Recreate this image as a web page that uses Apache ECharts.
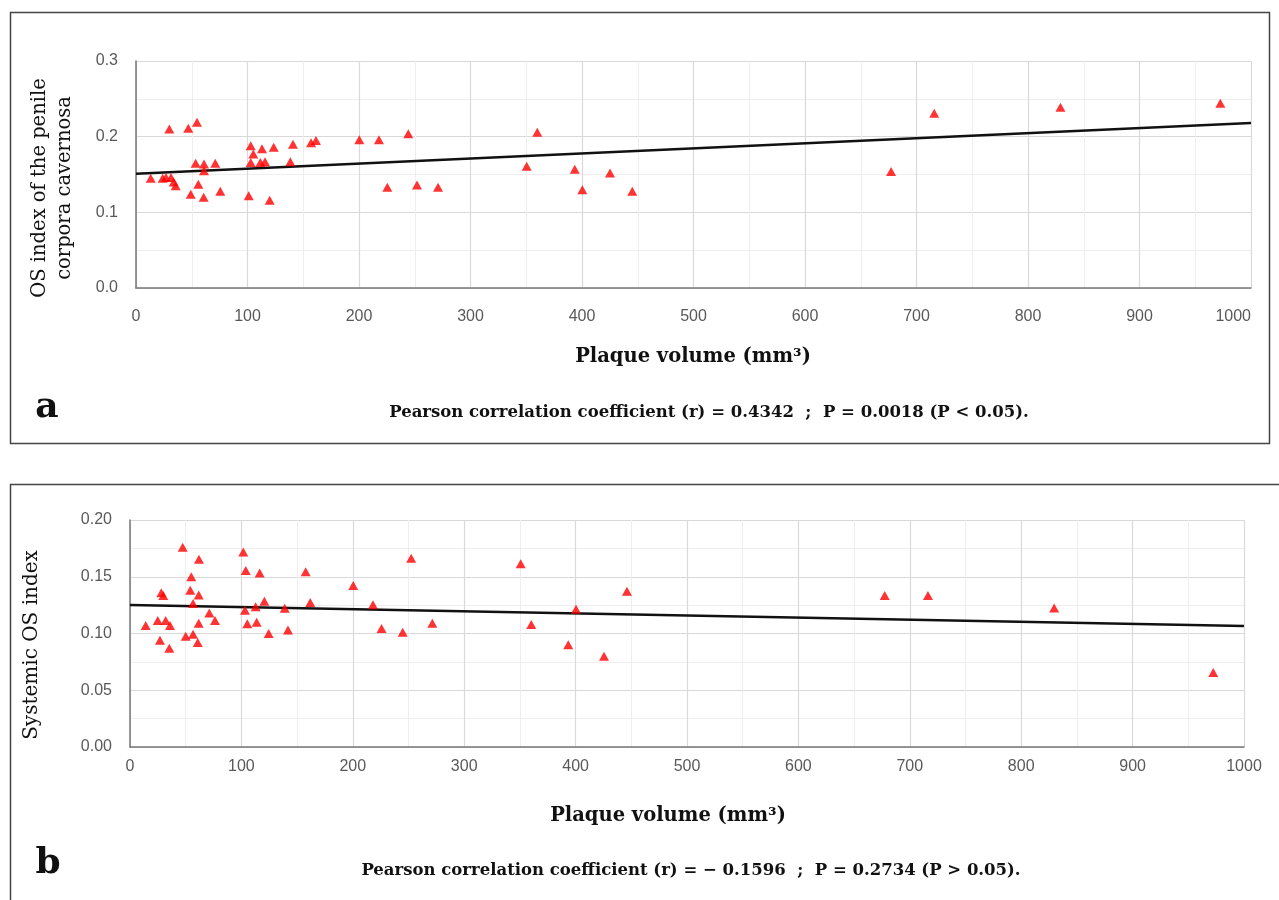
<!DOCTYPE html>
<html><head><meta charset="utf-8">
<script src="https://cdn.jsdelivr.net/npm/echarts/dist/echarts.min.js"></script>
<style>html,body{margin:0;padding:0;background:#fff}#c{width:1279px;height:900px}</style>
</head><body><div id="c"></div>
<script>
// Panel a: plaque volume (mm3) vs OS index of the penile corpora cavernosa
const penileX = [13.2, 23.9, 26.9, 31.4, 33.8, 35.6, 29.9, 46.9, 54.7, 53.5, 61.0, 71.1, 61.0, 55.9, 49.1, 60.7, 75.6,
  102.9, 105.2, 113.0, 123.5, 140.8, 157.0, 161.4, 102.9, 111.5, 115.7, 138.4, 101.1, 119.9,
  200.3, 217.9, 244.2, 359.9, 225.4, 252.0, 270.9, 350.4, 393.5, 425.1, 400.3, 445.1,
  715.9, 829.1, 972.5, 677.2];
const penileY = [0.145, 0.145, 0.146, 0.146, 0.140, 0.135, 0.210, 0.211, 0.219, 0.165, 0.164, 0.165, 0.155, 0.137, 0.124, 0.120, 0.128,
  0.188, 0.177, 0.184, 0.186, 0.190, 0.192, 0.195, 0.166, 0.166, 0.167, 0.167, 0.122, 0.116,
  0.196, 0.196, 0.204, 0.206, 0.133, 0.136, 0.133, 0.161, 0.157, 0.152, 0.130, 0.128,
  0.231, 0.239, 0.244, 0.154];
const trendAX = [0, 1000];
const trendAY = [0.151, 0.218];

// Panel b: plaque volume (mm3) vs systemic OS index
const systemicX = [14.1, 24.9, 32.0, 35.9, 26.9, 35.3, 28.1, 29.9, 47.3, 61.9, 55.0, 54.1, 61.7, 56.6, 71.2, 76.3, 61.7, 50.0, 56.6, 60.8,
  101.7, 103.9, 116.4, 103.2, 105.3, 112.8, 120.6, 113.7, 124.5, 138.9, 141.8, 157.7, 161.8,
  200.4, 218.1, 225.8, 244.8, 252.4, 271.4, 350.7, 360.2, 393.4, 400.4, 425.5, 446.1,
  677.5, 716.3, 829.6, 972.4];
const systemicY = [0.107, 0.1115, 0.1115, 0.107, 0.094, 0.087, 0.136, 0.1335, 0.176, 0.1655, 0.150, 0.138, 0.134, 0.1265, 0.118, 0.1115, 0.109, 0.0976, 0.0994, 0.092,
  0.1717, 0.1556, 0.1534, 0.1205, 0.1085, 0.1235, 0.1285, 0.110, 0.100, 0.1223, 0.103, 0.1543, 0.1273,
  0.1423, 0.1254, 0.1044, 0.101, 0.1662, 0.109, 0.1614, 0.108, 0.090, 0.1214, 0.080, 0.1373,
  0.1335, 0.1335, 0.1225, 0.0656];
const trendBX = [0, 1000];
const trendBY = [0.1252, 0.1067];

const xTickStep = 100;

const zip = (xs, ys) => xs.map((x, i) => [x, ys[i]]);
const labelFont = {fontFamily: 'Liberation Sans, Arial, sans-serif', fontSize: 16, color: '#595959'};
const serif = 'DejaVu Serif, serif';

function xAxisCfg(gridIndex, margin, alignMax) {
  return {
    type: 'value', gridIndex, min: 0, max: 1000, interval: xTickStep,
    axisLine: {show: true, lineStyle: {color: '#777', width: 1.5}},
    axisTick: {show: false},
    axisLabel: Object.assign({margin, alignMaxLabel: alignMax, formatter: v => String(v)}, labelFont),
    splitLine: {show: true, lineStyle: {color: '#d9d9d9', width: 1.2}},
    minorTick: {show: false, splitNumber: 2},
    minorSplitLine: {show: true, lineStyle: {color: '#eeeeee', width: 1}}
  };
}
function yAxisCfg(gridIndex, max, interval, digits) {
  return {
    type: 'value', gridIndex, min: 0, max, interval,
    axisLine: {show: true, lineStyle: {color: '#777', width: 1.5}},
    axisTick: {show: false},
    axisLabel: Object.assign({margin: 18, formatter: v => v.toFixed(digits)}, labelFont),
    splitLine: {show: true, lineStyle: {color: '#d9d9d9', width: 1.2}},
    minorTick: {show: false, splitNumber: 2},
    minorSplitLine: {show: true, lineStyle: {color: '#eeeeee', width: 1}}
  };
}

const chart = echarts.init(document.getElementById('c'), null, {renderer: 'canvas'});
chart.setOption({
  animation: false,
  backgroundColor: '#fff',
  grid: [
    {left: 136, top: 61, width: 1115, height: 227},
    {left: 130, top: 520, width: 1114, height: 227}
  ],
  xAxis: [xAxisCfg(0, 21, 'right'), xAxisCfg(1, 12, 'center')],
  yAxis: [yAxisCfg(0, 0.3, 0.1, 1), yAxisCfg(1, 0.2, 0.05, 2)],
  series: [
    {type: 'line', xAxisIndex: 0, yAxisIndex: 0, data: zip(trendAX, trendAY), showSymbol: false, silent: true,
     lineStyle: {color: '#111', width: 2.5}, z: 2},
    {type: 'scatter', xAxisIndex: 0, yAxisIndex: 0, data: zip(penileX, penileY), symbol: 'triangle', symbolSize: [10, 9],
     itemStyle: {color: '#ff0000'}, z: 3},
    {type: 'line', xAxisIndex: 1, yAxisIndex: 1, data: zip(trendBX, trendBY), showSymbol: false, silent: true,
     lineStyle: {color: '#111', width: 2.5}, z: 2},
    {type: 'scatter', xAxisIndex: 1, yAxisIndex: 1, data: zip(systemicX, systemicY), symbol: 'triangle', symbolSize: [10, 9],
     itemStyle: {color: '#ff0000'}, z: 3}
  ],
  graphic: [
    {type: 'rect', shape: {x: 10.5, y: 12.5, width: 1259, height: 431}, style: {fill: 'none', stroke: '#444', lineWidth: 1.5}},
    {type: 'polyline', shape: {points: [[10.5, 905], [10.5, 484.5], [1279, 484.5]]}, style: {fill: 'none', stroke: '#444', lineWidth: 1.5}},
    {type: 'text', x: 52, y: 188, rotation: Math.PI / 2,
     style: {text: 'OS index of the penile\ncorpora cavernosa', fontFamily: serif, fontSize: 19.5, lineHeight: 25,
       fill: '#111', textAlign: 'center', textVerticalAlign: 'middle'}},
    {type: 'text', x: 32, y: 645, rotation: Math.PI / 2,
     style: {text: 'Systemic OS index', fontFamily: serif, fontSize: 20, fill: '#111', textAlign: 'center', textVerticalAlign: 'middle'}},
    {type: 'text', x: 693, y: 357,
     style: {text: 'Plaque volume (mm³)', fontFamily: serif, fontWeight: 'bold', fontSize: 19.5, fill: '#111', textAlign: 'center', textVerticalAlign: 'middle'}},
    {type: 'text', x: 668, y: 816,
     style: {text: 'Plaque volume (mm³)', fontFamily: serif, fontWeight: 'bold', fontSize: 19.5, fill: '#111', textAlign: 'center', textVerticalAlign: 'middle'}},
    {type: 'text', x: 47, y: 408,
     style: {text: 'a', fontFamily: serif, fontWeight: 'bold', fontSize: 36, fill: '#111', textAlign: 'center', textVerticalAlign: 'middle'}},
    {type: 'text', x: 48, y: 864,
     style: {text: 'b', fontFamily: serif, fontWeight: 'bold', fontSize: 36, fill: '#111', textAlign: 'center', textVerticalAlign: 'middle'}},
    {type: 'text', x: 709, y: 413,
     style: {text: 'Pearson correlation coefficient (r) = 0.4342  ;  P = 0.0018 (P < 0.05).', fontFamily: serif, fontWeight: 'bold', fontSize: 16.5, fill: '#111', textAlign: 'center', textVerticalAlign: 'middle'}},
    {type: 'text', x: 691, y: 871,
     style: {text: 'Pearson correlation coefficient (r) = \u2212 0.1596  ;  P = 0.2734 (P > 0.05).', fontFamily: serif, fontWeight: 'bold', fontSize: 16.5, fill: '#111', textAlign: 'center', textVerticalAlign: 'middle'}}
  ]
});
</script>
</body></html>
